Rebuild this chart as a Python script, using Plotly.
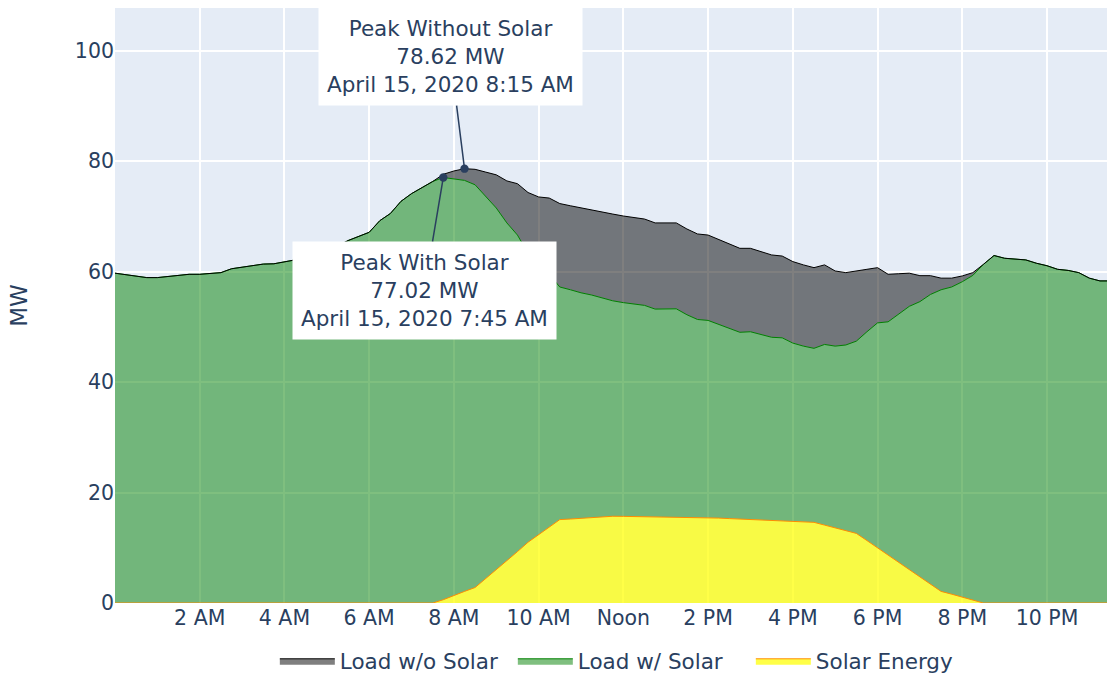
import pandas as pd
import plotly.graph_objects as go

# 15-minute timestamps for April 15, 2020
times = pd.date_range("2020-04-15 00:00", "2020-04-15 23:45", freq="15min")

load_without_solar = [
    59.7, 59.4, 59.1, 58.9, 58.9, 59.1, 59.4, 59.5,
    59.5, 59.6, 59.8, 60.5, 60.8, 61.0, 61.35, 61.4,
    61.7, 62.1, 62.5, 63.0, 63.8, 64.6, 65.6, 66.3,
    67.1, 69.2, 70.5, 72.7, 74.1, 75.2, 76.3, 77.6,
    78.2, 78.62, 78.5, 78.0, 77.5, 76.4, 75.9, 74.3,
    73.5, 73.3, 72.3, 71.9, 71.5, 71.2, 70.8, 70.4,
    70.05, 69.8, 69.5, 68.8, 68.8, 68.8, 67.7, 66.8,
    66.6, 65.8, 64.9, 64.2, 64.2, 63.6, 63.0, 62.8,
    61.8, 61.2, 60.7, 61.2, 60.1, 59.8, 60.15, 60.4,
    60.7, 59.5, 59.6, 59.7, 59.25, 59.25, 58.8, 58.8,
    59.2, 59.8, 61.3, 62.9, 62.4, 62.3, 62.1, 61.5,
    61.05, 60.4, 60.2, 59.8, 58.8, 58.3, 58.3, 58.5,
]

load_with_solar = [
    59.7, 59.4, 59.1, 58.9, 58.9, 59.1, 59.4, 59.5,
    59.5, 59.6, 59.8, 60.5, 60.8, 61.0, 61.35, 61.4,
    61.7, 62.1, 62.5, 63.0, 63.8, 64.6, 65.6, 66.3,
    67.1, 69.2, 70.5, 72.7, 74.1, 75.2, 76.3, 77.02,
    76.8, 76.5, 75.7, 73.6, 71.5, 68.8, 66.6, 63.3,
    61.1, 59.5, 57.2, 56.7, 56.15, 55.75, 55.25, 54.7,
    54.37, 54.14, 53.87, 53.2, 53.22, 53.25, 52.18, 51.32,
    51.15, 50.43, 49.62, 49.0, 49.1, 48.6, 48.1, 48.0,
    47.05, 46.5, 46.1, 46.8, 46.5, 46.7, 47.4, 49.1,
    50.7, 50.9, 52.3, 53.7, 54.55, 55.85, 56.7, 57.2,
    58.15, 59.3, 61.3, 62.9, 62.4, 62.3, 62.1, 61.5,
    61.05, 60.4, 60.2, 59.8, 58.8, 58.3, 58.3, 58.5,
]

solar_energy = [
    0, 0, 0, 0, 0, 0, 0, 0,
    0, 0, 0, 0, 0, 0, 0, 0,
    0, 0, 0, 0, 0, 0, 0, 0,
    0, 0, 0, 0, 0, 0, 0, 0.6,
    1.4, 2.1, 2.8, 4.4, 6.0, 7.6, 9.3, 11.0,
    12.4, 13.8, 15.1, 15.2, 15.35, 15.45, 15.55, 15.7,
    15.68, 15.66, 15.63, 15.6, 15.58, 15.55, 15.52, 15.48,
    15.45, 15.37, 15.28, 15.2, 15.1, 15.0, 14.9, 14.8,
    14.75, 14.7, 14.6, 14.1, 13.6, 13.1, 12.6, 11.3,
    10.0, 8.6, 7.3, 6.0, 4.7, 3.4, 2.1, 1.6,
    1.05, 0.5, 0, 0, 0, 0, 0, 0,
    0, 0, 0, 0, 0, 0, 0, 0,
]

tick_times = ["2020-04-15 02:00", "2020-04-15 04:00", "2020-04-15 06:00",
              "2020-04-15 08:00", "2020-04-15 10:00", "2020-04-15 12:00",
              "2020-04-15 14:00", "2020-04-15 16:00", "2020-04-15 18:00",
              "2020-04-15 20:00", "2020-04-15 22:00"]
tick_labels = ["2 AM", "4 AM", "6 AM", "8 AM", "10 AM", "Noon",
               "2 PM", "4 PM", "6 PM", "8 PM", "10 PM"]

peak_without_time = "2020-04-15 08:15"
peak_without_value = 78.62
peak_with_time = "2020-04-15 07:45"
peak_with_value = 77.02

FONT = "Verdana, DejaVu Sans, sans-serif"
NAVY = "#2a3f5f"

fig = go.Figure()
fig.add_trace(go.Scatter(
    x=times, y=solar_energy, name="Solar Energy", mode="lines",
    line=dict(color="#ff8c00", width=1), fill="tozeroy",
    fillcolor="rgba(255,255,0,0.72)",
))
fig.add_trace(go.Scatter(
    x=times, y=load_with_solar, name="Load w/ Solar", mode="lines",
    line=dict(color="green", width=1), fill="tonexty",
))
fig.add_trace(go.Scatter(
    x=times, y=load_without_solar, name="Load w/o Solar", mode="lines",
    line=dict(color="black", width=1), fill="tonexty",
))

fig.add_annotation(
    x=peak_without_time, y=peak_without_value, xref="x", yref="y",
    text="Peak Without Solar<br>%.2f MW<br>April 15, 2020 8:15 AM" % peak_without_value,
    showarrow=True, arrowhead=6, arrowsize=1.4, arrowwidth=1.5, arrowcolor=NAVY,
    ax=-14, ay=-112, bgcolor="white", borderpad=8,
    font=dict(family=FONT, size=21.5, color=NAVY),
)
fig.add_annotation(
    x=peak_with_time, y=peak_with_value, xref="x", yref="y",
    text="Peak With Solar<br>%.2f MW<br>April 15, 2020 7:45 AM" % peak_with_value,
    showarrow=True, arrowhead=6, arrowsize=1.4, arrowwidth=1.5, arrowcolor=NAVY,
    ax=-19, ay=113, bgcolor="white", borderpad=8,
    font=dict(family=FONT, size=21.5, color=NAVY),
)

fig.update_layout(
    template="plotly",
    width=1107, height=675, autosize=False,
    font=dict(family=FONT, size=20.5, color=NAVY),
    plot_bgcolor="#E5ECF6",
    paper_bgcolor="white",
    margin=dict(l=115, r=0, t=8, b=72),
    legend=dict(orientation="h", traceorder="reversed", x=0.521, xanchor="center",
                yref="container", y=0.021, yanchor="middle",
                font=dict(size=21.5), itemwidth=55,
                entrywidthmode="pixels", entrywidth=168),
    xaxis=dict(range=["2020-04-15 00:00", "2020-04-15 23:25"],
               tickvals=tick_times, ticktext=tick_labels, showgrid=True,
               gridcolor="white", gridwidth=2, automargin=False),
    yaxis=dict(range=[0, 107.7], dtick=20,
               title=dict(text="MW", font=dict(size=23), standoff=40),
               gridcolor="white", gridwidth=2, zeroline=False, automargin=False),
)

post = ("document.body.style.margin='0';"
        "document.body.style.overflow='hidden';")
fig.write_html("out.html", post_script=post, config={"displayModeBar": False})
